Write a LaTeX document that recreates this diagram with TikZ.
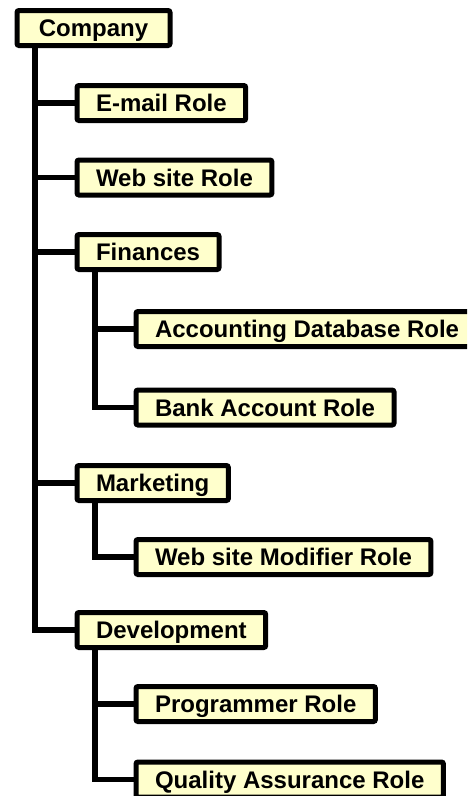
\documentclass[tikz,border=0pt]{standalone}
\usepackage{fontspec}
\setmainfont{Liberation Sans}
\usepackage{tikz}
\definecolor{rolefill}{RGB}{255,255,204}

\begin{document}
\begin{tikzpicture}[x=1pt,y=-1pt,
	role/.style={shape=rectangle,draw=black,fill=rolefill,line width=5pt,rounded corners=2pt,
		anchor=west,minimum height=35pt,inner xsep=19pt,inner ysep=0pt,
		text height=17pt,text depth=0pt,
		font=\fontsize{24}{28}\selectfont\bfseries},
	link/.style={draw=black,line width=5.5pt}]
	
	\clip (0,0) rectangle (467,796);
	\fill[white] (0,0) rectangle (467,796);
	
	\coordinate (t0) at (35,0);
	\coordinate (t1) at (95,0);
	
	\node[role,minimum width=153pt] (company) at (14.5, 28)    {Company};
	
	\node[role] (email) at (74.5, 103)     {E-mail Role};
	\node[role] (web)   at (74.5, 177.5)   {Web site Role};
	\node[role] (fin)   at (74.5, 252)     {Finances};
	\node[role] (mkt)   at (74.5, 483)     {Marketing};
	\node[role] (dev)   at (74.5, 630)     {Development};
	
	\node[role] (acct)  at (133.5, 329)    {Accounting Database Role};
	\node[role] (bank)  at (133.5, 407.5)  {Bank Account Role};
	\node[role] (mod)   at (133.5, 557)    {Web site Modifier Role};
	\node[role] (prog)  at (133.5, 704)    {Programmer Role};
	\node[role] (qa)    at (133.5, 779.5)  {Quality Assurance Role};
	
	\path[link] (company.south -| t0) |- (dev.west);
	\foreach \n in {email,web,fin,mkt}
		\path[link] (t0 |- \n.west) -- (\n.west);
	
	\path[link] (fin.south -| t1) |- (bank.west);
	\path[link] (t1 |- acct.west) -- (acct.west);
	\path[link] (mkt.south -| t1) |- (mod.west);
	\path[link] (dev.south -| t1) |- (qa.west);
	\path[link] (t1 |- prog.west) -- (prog.west);
\end{tikzpicture}
\end{document}
